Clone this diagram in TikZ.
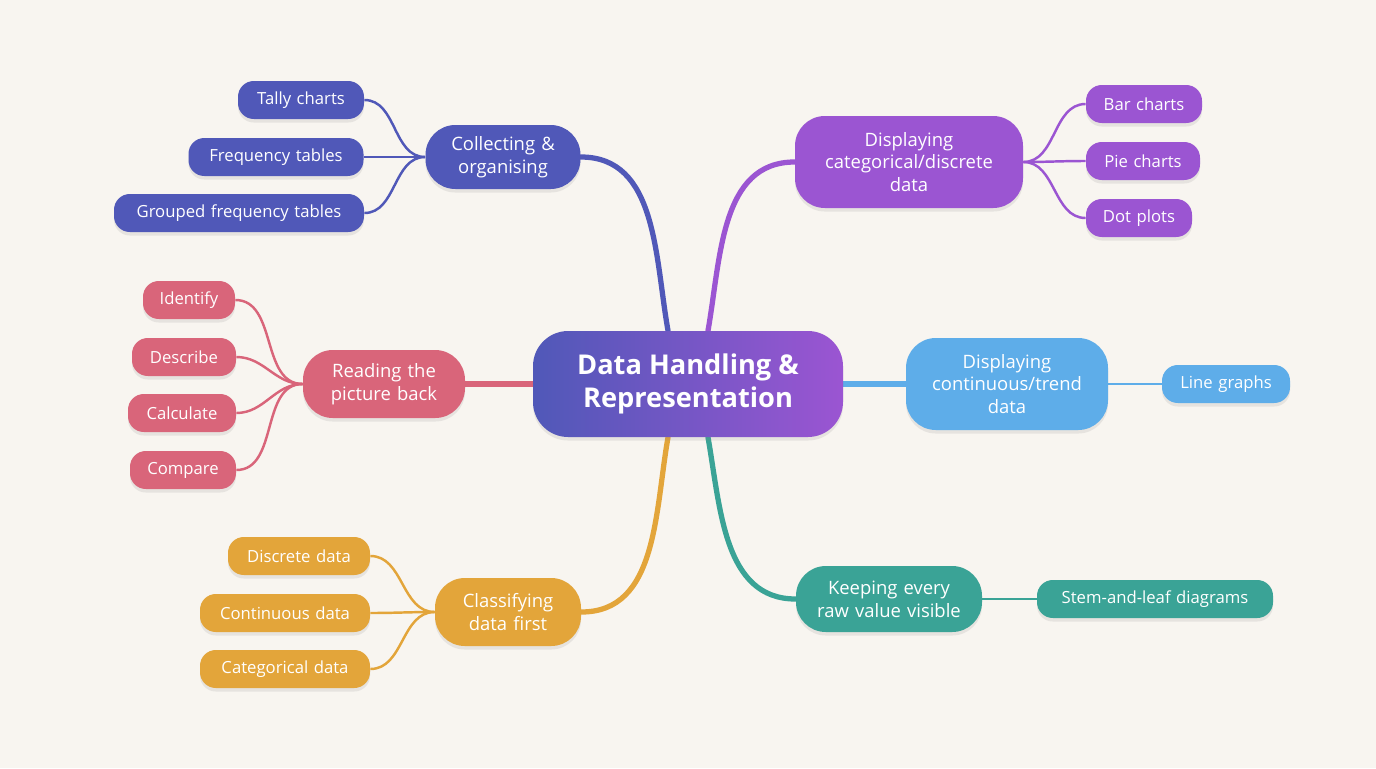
\documentclass[tikz,border=0pt]{standalone}
\usepackage{fontspec}
\setmainfont{Open Sans}
\usetikzlibrary{calc,shadows}
\definecolor{bg}{HTML}{F8F5F0}
\definecolor{cInd}{HTML}{5058B8}
\definecolor{cPur}{HTML}{9B55D2}
\definecolor{cRed}{HTML}{D9657A}
\definecolor{cBlu}{HTML}{5EADE9}
\definecolor{cOra}{HTML}{E3A53A}
\definecolor{cTea}{HTML}{3AA396}
\pgfdeclarelayer{bglayer}
\pgfdeclarelayer{edges}
\pgfsetlayers{bglayer,edges,main}
\begin{document}
\begin{tikzpicture}[x=0.02cm,y=-0.02cm,
  base/.style={rounded corners=#1, text=white, align=center, inner sep=0pt,
     drop shadow={opacity=0.15,shadow xshift=0pt,shadow yshift=-2pt}},
  leaf/.style 2 args={base=9pt, fill=#1, minimum height=0.76cm, text width=#2*0.02cm, font=\fontsize{9.5}{11}\selectfont},
  main/.style 2 args={base=17pt, fill=#1, minimum height=#2*0.02cm, font=\fontsize{10.5}{13}\selectfont},
  trunk/.style={line width=3pt, line cap=round},
  br/.style={line width=1.4pt}]
\begin{pgfonlayer}{bglayer}
\fill[bg] (0,0) rectangle (1376,768);
\end{pgfonlayer}
\useasboundingbox (0,0) rectangle (1376,768);

% central
\node[base=20pt, left color=cInd, right color=cPur, minimum width=310*0.02cm, minimum height=106*0.02cm,
  font=\fontsize{15.5}{19}\selectfont\bfseries] (cen) at (688,384) {Data Handling \&\\Representation};

% main topics
\node[main={cInd}{64}, text width=155*0.02cm] (col) at (503,157) {Collecting \&\\organising};
\node[main={cPur}{92}, text width=228*0.02cm] (cat) at (909,162) {Displaying\\categorical/discrete\\data};
\node[main={cRed}{68}, text width=162*0.02cm] (rea) at (384,384) {Reading the\\picture back};
\node[main={cBlu}{92}, text width=202*0.02cm] (con) at (1007,384) {Displaying\\continuous/trend\\data};
\node[main={cOra}{68}, text width=146*0.02cm] (cls) at (508,612) {Classifying\\data first};
\node[main={cTea}{66}, text width=186*0.02cm] (kee) at (889,599) {Keeping every\\raw value visible};

% leaves
\node[leaf={cInd}{126}] (l1) at (301,100) {Tally charts};
\node[leaf={cInd}{175}] (l2) at (276,157) {Frequency tables};
\node[leaf={cInd}{250}] (l3) at (239,213) {Grouped frequency tables};
\node[leaf={cPur}{116}] (p1) at (1144,104) {Bar charts};
\node[leaf={cPur}{114}] (p2) at (1143,161) {Pie charts};
\node[leaf={cPur}{106}] (p3) at (1139,218) {Dot plots};
\node[leaf={cRed}{92}] (r1) at (189,300) {Identify};
\node[leaf={cRed}{104}] (r2) at (184,357) {Describe};
\node[leaf={cRed}{108}] (r3) at (182,413) {Calculate};
\node[leaf={cRed}{106}] (r4) at (183,470) {Compare};
\node[leaf={cBlu}{128}] (b1) at (1226,384) {Line graphs};
\node[leaf={cOra}{142}] (o1) at (299,556) {Discrete data};
\node[leaf={cOra}{170}] (o2) at (285,613) {Continuous data};
\node[leaf={cOra}{170}] (o3) at (285,669) {Categorical data};
\node[leaf={cTea}{236}] (t1) at (1155,599) {Stem-and-leaf diagrams};

\begin{pgfonlayer}{edges}
% trunks
\draw[trunk,cInd] ($(cen.north)+(-20,0)$) to[out=100,in=0] (col.east);
\draw[trunk,cPur] ($(cen.north)+(20,0)$) to[out=80,in=180] (cat.west);
\draw[trunk,cRed] (cen.west) -- (rea.east);
\draw[trunk,cBlu] (cen.east) -- (con.west);
\draw[trunk,cOra] ($(cen.south)+(-20,0)$) to[out=-100,in=0] (cls.east);
\draw[trunk,cTea] ($(cen.south)+(20,0)$) to[out=-80,in=180] (kee.west);
% branches
\foreach \l in {l1,l2,l3} \draw[br,cInd] (col.west) to[out=180,in=0] (\l.east);
\foreach \l in {p1,p2,p3} \draw[br,cPur] (cat.east) to[out=0,in=180] (\l.west);
\foreach \l in {r1,r2,r3,r4} \draw[br,cRed] (rea.west) to[out=180,in=0] (\l.east);
\draw[br,cBlu] (con.east) -- (b1.west);
\foreach \l in {o1,o2,o3} \draw[br,cOra] (cls.west) to[out=180,in=0] (\l.east);
\draw[br,cTea] (kee.east) -- (t1.west);
\end{pgfonlayer}
\end{tikzpicture}
\end{document}
